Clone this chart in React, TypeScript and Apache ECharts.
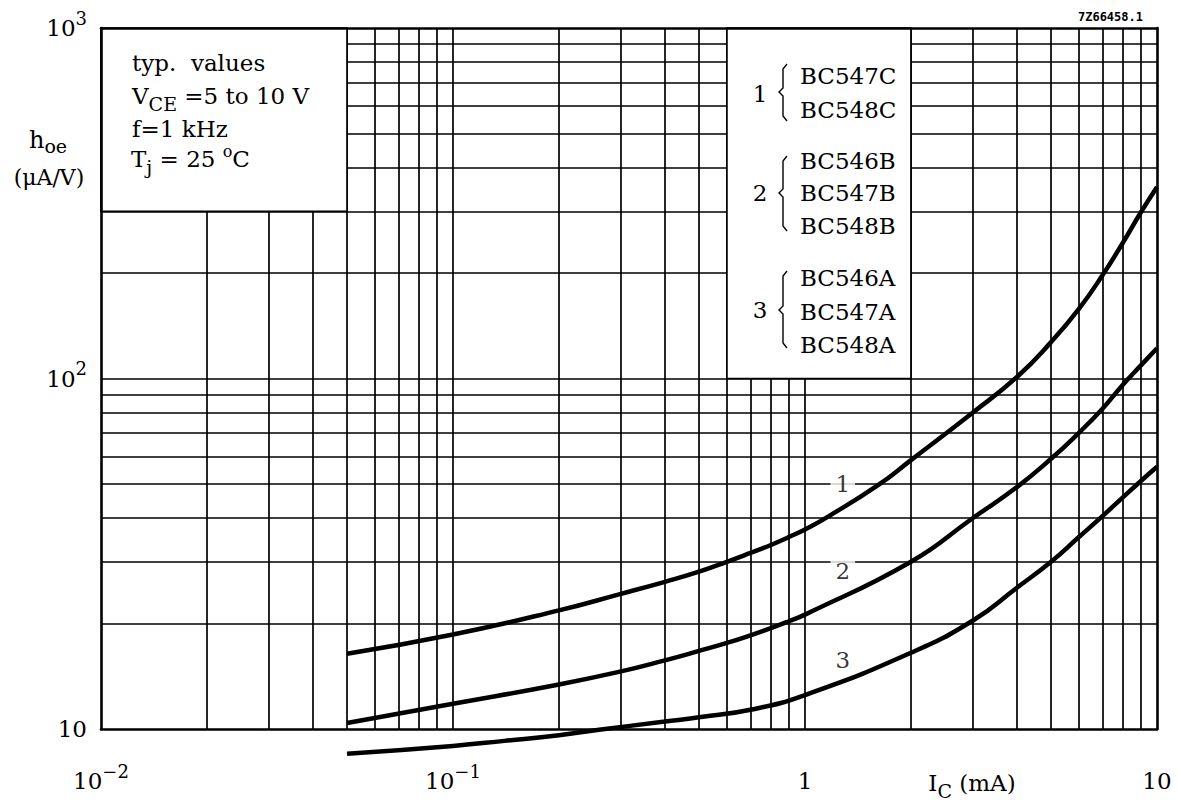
import React, { useEffect, useRef } from 'react';
import * as echarts from 'echarts';

// ---- axis ticks and grid values ----
const xTickValues = [0.01, 0.1, 1, 10];
const yTickValues = [10, 100, 1000];
const xGridValues = [0.02, 0.03, 0.04, 0.05, 0.06, 0.07, 0.08, 0.09, 0.1, 0.2, 0.3, 0.4, 0.5, 0.6, 0.7, 0.8, 0.9, 1, 2, 3, 4, 5, 6, 7, 8, 9];
const yGridValues = [20, 30, 40, 50, 60, 70, 80, 90, 100, 200, 300, 400, 500, 600, 700, 800, 900];

// ---- curves (I_C in mA, h_oe in uA/V) ----
const curve1X = [0.05, 0.1, 0.2, 0.3, 0.4, 0.5, 0.6, 0.7, 0.8, 0.9, 1, 1.16, 1.62, 2, 3, 4, 5, 6, 7, 8, 9, 10];
const curve1Y = [16.4, 18.6, 21.8, 24.3, 26.3, 28.1, 30, 31.8, 33.5, 35.3, 37.1, 40.3, 49.8, 58.5, 80, 101, 127, 158, 197, 244, 298, 352];

const curve2X = [0.05, 0.1, 0.2, 0.3, 0.4, 0.5, 0.6, 0.7, 0.8, 0.9, 1, 2, 3, 4, 5, 6, 7, 8, 9, 10];
const curve2Y = [10.4, 11.8, 13.4, 14.6, 15.7, 16.7, 17.6, 18.5, 19.4, 20.3, 21.2, 30, 40, 49, 59, 70, 82, 96, 109, 122];

const curve3X = [0.05, 0.1, 0.14, 0.2, 0.26, 0.4, 0.5, 0.7, 1, 2, 3, 4, 5, 6, 7, 8, 9, 10];
const curve3Y = [8.5, 8.95, 9.25, 9.6, 9.95, 10.5, 10.8, 11.35, 12.5, 16.5, 20.4, 25.3, 30, 35.3, 40.5, 45.8, 51, 56];

// ---- curve number labels ----
const curveLabels = ['1', '2', '3'];
const curveLabelX = [1.28, 1.28, 1.28];
const curveLabelY = [50, 28.3, 15.7];

// ---- white boxes (data coordinates) ----
const boxX = [[0.01, 0.05], [0.6, 2]];
const boxY = [[300, 1000], [100, 1000]];

// ---- legend text ----
const legendNumbers = ['1', '2', '3'];
const legendGroups = [['BC547C', 'BC548C'], ['BC546B', 'BC547B', 'BC548B'], ['BC546A', 'BC547A', 'BC548A']];

const SERIF = 'DejaVu Serif';
const GRID = { left: 101, top: 28, width: 1056, height: 701 };

let measureCtx: CanvasRenderingContext2D | null = null;
function textWidth(t: string, size: number, family: string = SERIF) {
  if (!measureCtx) measureCtx = document.createElement('canvas').getContext('2d');
  if (!measureCtx) return t.length * size * 0.6;
  measureCtx.font = `${size}px "${family}"`;
  return measureCtx.measureText(t).width;
}

function tx(x: number, y: number, text: string, opts: any = {}) {
  const align = opts.align || 'left';
  return {
    type: 'text',
    x,
    y,
    z: 100,
    silent: true,
    style: {
      text,
      fill: '#000',
      fontFamily: opts.fontFamily || SERIF,
      fontSize: opts.fontSize || 23,
      fontWeight: opts.fontWeight || 'normal',
      align,
      textAlign: align,
      verticalAlign: 'middle',
      textVerticalAlign: 'middle',
    },
  };
}

// a run of text pieces laid out left to right: [text, centerY, fontSize]
function run(x: number, parts: Array<[string, number, number]>, align: 'left' | 'center' = 'left') {
  const widths = parts.map((p) => textWidth(p[0], p[2]));
  const total = widths.reduce((a, b) => a + b, 0);
  let cx = align === 'center' ? x - total / 2 : x;
  const out: any[] = [];
  parts.forEach((p, i) => {
    out.push(tx(cx, p[1], p[0], { fontSize: p[2] }));
    cx += widths[i];
  });
  return out;
}

function buildGraphics() {
  const g: any[] = [];
  // annotation box text
  g.push(...run(132, [['typ.  values', 63, 23]]));
  g.push(...run(132, [['V', 96, 23], ['CE', 104, 19], [' =5 to 10 V', 96, 23]]));
  g.push(...run(132, [['f=1 kHz', 129, 23]]));
  g.push(...run(131, [['T', 159, 23], ['j', 167, 19], [' = 25 ', 159, 23], ['o', 151, 16], ['C', 159, 23]]));

  // legend groups
  const legendY = [[76, 110], [161, 193, 226], [278, 312, 345]];
  const numberY = [94, 193, 310];
  const braceTop = [64, 156, 271];
  const braceMid = [92, 193, 310];
  const braceBot = [121, 231, 348];
  legendGroups.forEach((grp, gi) => {
    grp.forEach((name, i) => g.push(tx(800, legendY[gi][i], name, { fontSize: 23 })));
    g.push(tx(760, numberY[gi], legendNumbers[gi], { align: 'center', fontSize: 23 }));
    const t = braceTop[gi], m = braceMid[gi], b = braceBot[gi];
    g.push({
      type: 'polyline',
      z: 100,
      silent: true,
      shape: {
        points: [[787, t], [783, t + 5], [783, m - 4], [779, m], [783, m + 4], [783, b - 5], [787, b]],
      },
      style: { stroke: '#000', lineWidth: 1.4, fill: null },
    });
  });

  // axis names
  g.push(...run(48, [['h', 140, 24], ['oe', 146, 19]], 'center'));
  g.push(tx(49, 177, '(μA/V)', { align: 'center', fontSize: 22 }));
  g.push(...run(972, [['I', 783, 23], ['C', 791, 19], [' (mA)', 783, 23]], 'center'));

  // drawing code
  g.push(tx(1143, 17, '7Z66458.1', { align: 'right', fontFamily: 'DejaVu Sans Mono', fontSize: 12, fontWeight: 'bold' }));
  return g;
}

const tickRich = {
  b: { fontFamily: SERIF, fontSize: 23, lineHeight: 38, verticalAlign: 'middle', color: '#000' },
  p: { fontFamily: SERIF, fontSize: 18, lineHeight: 18, verticalAlign: 'top', color: '#000' },
};

function expLabel(v: number) {
  const e = Math.round(Math.log10(v));
  if (e === 0) return '{b|1}';
  if (e === 1) return '{b|10}';
  if (e < 0) return '{b|10}{p|\u2212' + -e + '}';
  return '{b|10}{p|' + e + '}';
}

function buildOption() {
  const axisLineStyle = { color: '#000', width: 2.6 };
  const xMin = xTickValues[0];
  const xMax = xTickValues[xTickValues.length - 1];
  const yMin = yTickValues[0];
  const yMax = yTickValues[yTickValues.length - 1];
  const curveStyle = { color: '#000', width: 4.5 };

  const mkCurve = (xs: number[], ys: number[]) => ({
    type: 'line',
    data: xs.map((x, i) => [x, ys[i]]),
    smooth: 0.5,
    showSymbol: false,
    symbol: 'none',
    clip: false,
    silent: true,
    z: 5,
    lineStyle: curveStyle,
    itemStyle: { color: '#000' },
  });

  const hiddenAxis = {
    type: 'log',
    logBase: 10,
    z: 10,
    axisLine: { show: true, lineStyle: axisLineStyle },
    axisTick: { show: false },
    axisLabel: { show: false },
    splitLine: { show: false },
  };

  return {
    animation: false,
    backgroundColor: '#fff',
    grid: { ...GRID, show: false, containLabel: false },
    xAxis: [
      {
        type: 'log',
        logBase: 10,
        min: xMin,
        max: xMax,
        position: 'bottom',
        z: 10,
        axisLine: { show: true, lineStyle: axisLineStyle },
        axisTick: { show: false },
        minorTick: { show: false },
        splitLine: { show: false },
        axisLabel: {
          show: true,
          margin: 33,
          showMinLabel: true,
          showMaxLabel: true,
          formatter: (v: number) => expLabel(v),
          rich: tickRich,
        },
      },
      { ...hiddenAxis, min: xMin, max: xMax, position: 'top' },
    ],
    yAxis: [
      {
        type: 'log',
        logBase: 10,
        min: yMin,
        max: yMax,
        position: 'left',
        z: 10,
        axisLine: { show: true, lineStyle: axisLineStyle },
        axisTick: { show: false },
        minorTick: { show: false },
        splitLine: { show: false },
        axisLabel: {
          show: true,
          margin: 14,
          showMinLabel: true,
          showMaxLabel: true,
          formatter: (v: number) => expLabel(v),
          rich: tickRich,
        },
      },
      { ...hiddenAxis, min: yMin, max: yMax, position: 'right' },
    ],
    series: [
      {
        type: 'line',
        name: 'grid',
        data: [],
        z: 2,
        silent: true,
        markLine: {
          z: 2,
          silent: true,
          symbol: ['none', 'none'],
          label: { show: false },
          lineStyle: { color: '#000', width: 1.7, type: 'solid' },
          emphasis: { disabled: true },
          data: [
            ...xGridValues.map((v) => ({ xAxis: v })),
            ...yGridValues.map((v) => ({ yAxis: v })),
          ],
        },
      },
      {
        type: 'line',
        name: 'boxes',
        data: [],
        z: 3,
        silent: true,
        markArea: {
          z: 3,
          silent: true,
          itemStyle: { color: '#fff', borderColor: '#000', borderWidth: 1.7 },
          emphasis: { disabled: true },
          data: boxX.map((bx, i) => [
            { xAxis: bx[0], yAxis: boxY[i][0] },
            { xAxis: bx[1], yAxis: boxY[i][1] },
          ]),
        },
      },
      mkCurve(curve1X, curve1Y),
      mkCurve(curve2X, curve2Y),
      mkCurve(curve3X, curve3Y),
      {
        type: 'scatter',
        z: 6,
        silent: true,
        symbolSize: 0.1,
        itemStyle: { color: 'transparent' },
        data: curveLabels.map((t, i) => ({ name: t, value: [curveLabelX[i], curveLabelY[i]] })),
        label: {
          show: true,
          position: 'inside',
          formatter: (p: any) => p.name,
          fontFamily: SERIF,
          fontSize: 23,
          lineHeight: 24,
          color: '#000',
          backgroundColor: '#fff',
          padding: [0, 5],
        },
      },
    ],
    graphic: buildGraphics(),
  };
}

export default function App() {
  const ref = useRef<HTMLDivElement>(null);
  useEffect(() => {
    if (!ref.current) return;
    const chart = echarts.init(ref.current, null, { renderer: 'svg' });
    chart.setOption(buildOption() as any);
    return () => chart.dispose();
  }, []);
  return (
    <div
      ref={ref}
      style={{ position: 'fixed', left: 0, top: 0, width: 1178, height: 807, background: '#fff' }}
    />
  );
}
